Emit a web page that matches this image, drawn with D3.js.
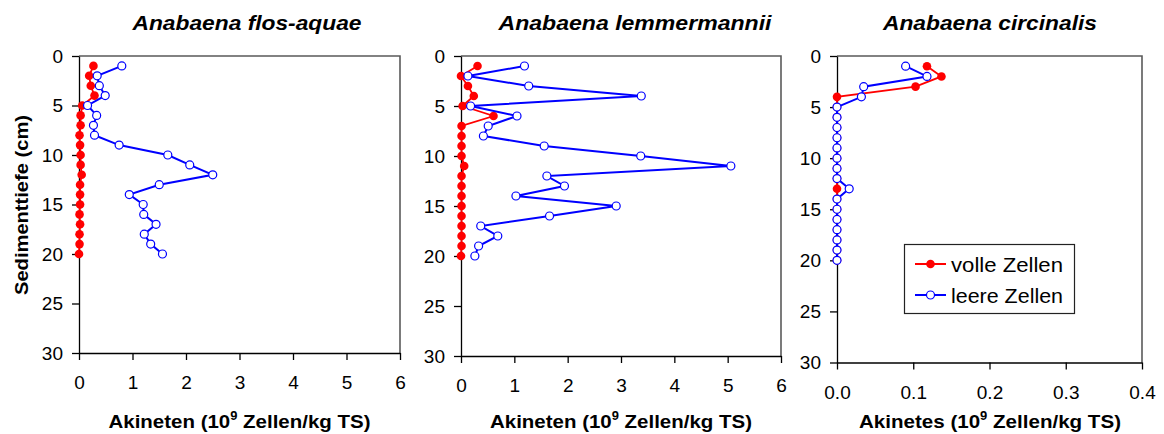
<!DOCTYPE html>
<html>
<head>
<meta charset="utf-8">
<script src="https://cdn.jsdelivr.net/npm/d3@7"></script>
<style>
  html, body { margin: 0; padding: 0; background: #fff; }
  svg { display: block; }
  text { font-family: "Liberation Sans", Arial, sans-serif; fill: #000; }
</style>
</head>
<body>
<svg id="chart" width="1164" height="434"></svg>
<script>
// ---------------- DATA ----------------
const depths = [1, 2, 3, 4, 5, 6, 7, 8, 9, 10, 11, 12, 13, 14, 15, 16, 17, 18, 19, 20];

const titles = ["Anabaena flos-aquae", "Anabaena lemmermannii", "Anabaena circinalis"];
const xTitleWords = ["Akineten", "Akineten", "Akinetes"];
const yTitle = "Sedimenttiefe (cm)";
const seriesNames = ["volle Zellen", "leere Zellen"];

const yTicks = [0, 5, 10, 15, 20, 25, 30];
const xTicksA = [0, 1, 2, 3, 4, 5, 6];
const xTicksC = [0.0, 0.1, 0.2, 0.3, 0.4];

// Anabaena flos-aquae
const flosFull  = [0.27, 0.19, 0.22, 0.29, 0.06, 0.03, 0.03, 0.01, 0.02, 0.03, 0.03, 0.05, 0.02, 0.02, 0.02, 0.01, 0.02, 0.01, 0.01, 0.00];
const flosEmpty = [0.80, 0.34, 0.38, 0.49, 0.16, 0.33, 0.27, 0.29, 0.75, 1.66, 2.07, 2.50, 1.50, 0.94, 1.20, 1.21, 1.44, 1.22, 1.34, 1.56];

// Anabaena lemmermannii
const lemFull  = [0.31, 0.00, 0.13, 0.24, 0.03, 0.61, 0.01, 0.01, 0.01, 0.01, 0.06, 0.01, 0.01, 0.01, 0.01, 0.01, 0.01, 0.01, 0.01, 0.00];
const lemEmpty = [1.19, 0.13, 1.27, 3.38, 0.18, 1.05, 0.51, 0.42, 1.56, 3.37, 5.06, 1.61, 1.94, 1.03, 2.91, 1.66, 0.37, 0.69, 0.33, 0.26];

// Anabaena circinalis
const circFull  = [0.118, 0.137, 0.103, 0.000, 0.000, 0.000, 0.000, 0.000, 0.000, 0.000, 0.000, 0.000, 0.000, 0.000, 0.000, 0.000, 0.000, 0.000, 0.000, 0.000];
const circEmpty = [0.090, 0.118, 0.035, 0.032, 0.000, 0.000, 0.000, 0.000, 0.000, 0.000, 0.000, 0.000, 0.016, 0.000, 0.000, 0.000, 0.000, 0.000, 0.000, 0.000];

// ---------------- LAYOUT ----------------
const FULL_COLOR = "#ff0000";
const EMPTY_COLOR = "#0000ff";
const FONT = "'Liberation Sans', Arial, sans-serif";

const panels = [
  { title: titles[0], word: xTitleWords[0], full: flosFull, empty: flosEmpty, xMax: 6, ticks: xTicksA, fmt: d3.format("d"),
    x0: 79, x1: 400, y0: 56, y1: 353, titleX: 247, titleW: 229, xtX: 239.5 },
  { title: titles[1], word: xTitleWords[1], full: lemFull, empty: lemEmpty, xMax: 6, ticks: xTicksA, fmt: d3.format("d"),
    x0: 461, x1: 781, y0: 56, y1: 356, titleX: 635, titleW: 273, xtX: 621 },
  { title: titles[2], word: xTitleWords[2], full: circFull, empty: circEmpty, xMax: 0.4, ticks: xTicksC, fmt: d3.format(".1f"),
    x0: 837, x1: 1142, y0: 56, y1: 362.5, titleX: 990, titleW: 214, xtX: 990 }
];

const svg = d3.select("#chart");

panels.forEach((p, i) => {
  const x = d3.scaleLinear().domain([0, p.xMax]).range([p.x0, p.x1]);
  const y = d3.scaleLinear().domain([0, 30]).range([p.y0, p.y1]);
  const g = svg.append("g");

  // frame (top & right)
  g.append("path")
    .attr("d", `M${p.x0},${p.y0}H${p.x1}V${p.y1}`)
    .attr("fill", "none").attr("stroke", "#5a5a5a").attr("stroke-width", 1.6);

  // y axis
  const ya = g.append("g").attr("transform", `translate(${p.x0},0)`)
    .call(d3.axisLeft(y).tickValues(yTicks).tickSize(7).tickSizeOuter(0).tickPadding(9));
  ya.selectAll("text").attr("font-size", 19).attr("font-family", FONT);
  ya.selectAll("line, path").attr("stroke", "#000").attr("stroke-width", 1.3);

  // x axis
  const xa = g.append("g").attr("transform", `translate(0,${p.y1})`)
    .call(d3.axisBottom(x).tickValues(p.ticks).tickFormat(p.fmt).tickSize(7).tickSizeOuter(0).tickPadding(16));
  xa.selectAll("text").attr("font-size", 19).attr("font-family", FONT);
  xa.selectAll("line, path").attr("stroke", "#000").attr("stroke-width", 1.3);

  // title
  svg.append("text")
    .attr("x", p.titleX).attr("y", 30)
    .attr("text-anchor", "middle")
    .attr("font-size", 21).attr("font-weight", "bold").attr("font-style", "italic")
    .attr("textLength", p.titleW).attr("lengthAdjust", "spacingAndGlyphs")
    .text(p.title);

  // x axis title
  const xt = svg.append("text")
    .attr("x", p.xtX).attr("y", 428)
    .attr("text-anchor", "middle")
    .attr("font-size", 19).attr("font-weight", "bold")
    .attr("textLength", 262).attr("lengthAdjust", "spacingAndGlyphs");
  xt.append("tspan").text(p.word + " (10");
  xt.append("tspan").attr("font-size", 12).attr("dy", -8).text("9");
  xt.append("tspan").attr("dy", 8).text(" Zellen/kg TS)");

  const line = d3.line().x(d => x(d.v)).y(d => y(d.d));
  const fullPts = depths.map((d, k) => ({ d: d, v: p.full[k] }));
  const emptyPts = depths.map((d, k) => ({ d: d, v: p.empty[k] }));

  // full cells (red)
  g.append("path").datum(fullPts).attr("d", line)
    .attr("fill", "none").attr("stroke", FULL_COLOR).attr("stroke-width", 1.8);
  g.selectAll(".full").data(fullPts).enter().append("circle")
    .attr("cx", d => x(d.v)).attr("cy", d => y(d.d)).attr("r", 4.3)
    .attr("fill", FULL_COLOR);

  // empty cells (blue)
  g.append("path").datum(emptyPts).attr("d", line)
    .attr("fill", "none").attr("stroke", EMPTY_COLOR).attr("stroke-width", 2);
  g.selectAll(".empty").data(emptyPts).enter().append("circle")
    .attr("cx", d => x(d.v)).attr("cy", d => y(d.d)).attr("r", 4)
    .attr("fill", "#fff").attr("stroke", EMPTY_COLOR).attr("stroke-width", 1.2);
});

// y axis title (first panel only)
svg.append("text")
  .attr("transform", "translate(28,205) rotate(-90)")
  .attr("text-anchor", "middle")
  .attr("font-size", 19).attr("font-weight", "bold")
  .attr("textLength", 180).attr("lengthAdjust", "spacingAndGlyphs")
  .text(yTitle);

// legend
const lg = svg.append("g");
lg.append("rect").attr("x", 904.5).attr("y", 244.5).attr("width", 170).attr("height", 69)
  .attr("fill", "#fff").attr("stroke", "#222").attr("stroke-width", 1.2);
const legendItems = [
  { name: seriesNames[0], color: FULL_COLOR, filled: true, yy: 264 },
  { name: seriesNames[1], color: EMPTY_COLOR, filled: false, yy: 295 }
];
legendItems.forEach(it => {
  lg.append("line").attr("x1", 915).attr("x2", 946).attr("y1", it.yy).attr("y2", it.yy)
    .attr("stroke", it.color).attr("stroke-width", 2);
  lg.append("circle").attr("cx", 930.5).attr("cy", it.yy).attr("r", it.filled ? 4.3 : 4)
    .attr("fill", it.filled ? it.color : "#fff")
    .attr("stroke", it.filled ? "none" : it.color).attr("stroke-width", 1.2);
  lg.append("text").attr("x", 951).attr("y", it.yy).attr("dy", "0.36em")
    .attr("font-size", 21).attr("textLength", 112).attr("lengthAdjust", "spacingAndGlyphs")
    .text(it.name);
});
</script>
</body>
</html>
